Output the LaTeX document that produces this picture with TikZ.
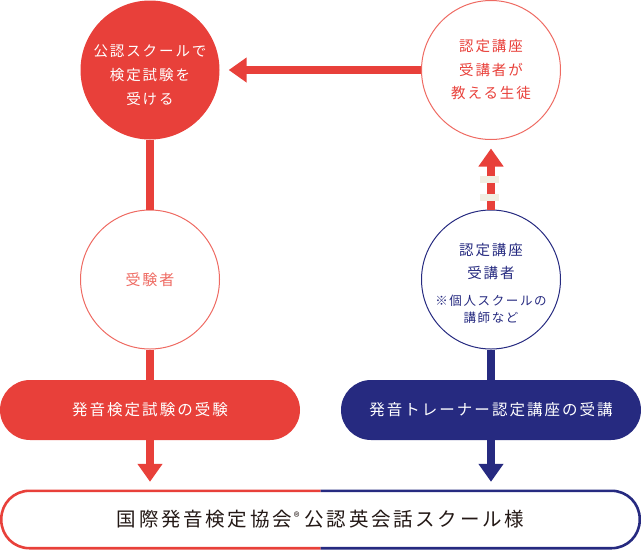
\documentclass[tikz,border=0pt]{standalone}
\usepackage{fontspec}
\usetikzlibrary{arrows.meta}
\newfontfamily\jp{Noto Sans CJK JP}[LetterSpace=13]
\newfontfamily\jpb{Noto Sans CJK JP}[LetterSpace=14]
\definecolor{cred}{HTML}{E8403A}
\definecolor{clred}{HTML}{EE6A62}
\definecolor{cnavy}{HTML}{262A80}
\definecolor{ccream}{HTML}{F1EEE2}
\definecolor{cdark}{HTML}{231815}
\tikzset{
  circ/.style={circle, inner sep=0pt, minimum size=139pt, align=center},
  txt/.style={inner sep=0pt, align=center},
  pill/.style={rectangle, rounded corners=30pt, inner sep=0pt, minimum width=300pt, minimum height=60pt, text=white, font=\jp\fontsize{15.5}{15.5}\selectfont},
  shaft/.style={line width=8pt},
  tip/.style={-{Triangle[width=24pt,length=18pt]}, line width=8pt},
}
\begin{document}
\begin{tikzpicture}[x=1pt,y=-1pt]
\useasboundingbox (0,0) rectangle (641,550);
\node[circ, fill=cred] (c1) at (150,70) {};
\node[txt, text=white, font=\jp\fontsize{14.5}{24}\selectfont] (c1t) at ([yshift=-5pt]c1.center) {公認スクールで\\検定試験を\\受ける};
\node[circ, draw=clred, line width=1pt, text=cred, font=\jp\fontsize{14.5}{23.5}\selectfont] (c2) at (491,70) {認定講座\\受講者が\\教える生徒};
\node[circ, draw=clred, line width=1pt, text=clred, font=\jp\fontsize{15}{15}\selectfont] (c3) at (150,279.5) {受験者};
\node[circ, draw=cnavy, line width=1pt] (c4) at (491,279.5) {};
\node[txt, text=cnavy, font=\jp\fontsize{14.5}{23}\selectfont] (c4t) at ([yshift=-4pt]c4.center) {認定講座\\受講者\\[4pt]\fontsize{12.5}{23}\selectfont ※個人スクールの\\[-6pt]\fontsize{12.5}{23}\selectfont 講師など};
\node[pill, fill=cred] (p1) at (150,410) {発音検定試験の受験};
\node[pill, fill=cnavy] (p2) at (491,410) {発音トレーナー認定講座の受講};
\node[rectangle, minimum width=638pt, minimum height=57pt, inner sep=0pt, text=cdark, font=\jpb\fontsize{19.5}{19.5}\selectfont] (p3) at (320.5,519.5) {国際発音検定協会\hspace{2pt}{\fontsize{12}{12}\selectfont\raisebox{5pt}{®}}\hspace{5pt}公認英会話スクール様};
\begin{scope}
\clip (0,480) rectangle (320.5,550);
\draw[cred, line width=2.6pt, rounded corners=28pt] (p3.south west) rectangle (p3.north east);
\end{scope}
\begin{scope}
\clip (320.5,480) rectangle (641,550);
\draw[cnavy, line width=2.6pt, rounded corners=28pt] (p3.south west) rectangle (p3.north east);
\end{scope}
% connectors
\draw[tip, cred, shorten >=9pt] (c2.west) -- (c1.east);
\draw[shaft, cred] (c1.south) -- (c3.north);
\draw[shaft, cred] (c3.south) -- (p1.north);
\draw[tip, cred, shorten >=9pt] (p1.south) -- (p1.south |- p3.north);
\draw[tip, cred, shorten >=8.5pt] (c4.north) -- (c2.south);
\fill[ccream] (479.5,176) rectangle (498.5,183);
\fill[ccream] (479.5,194) rectangle (498.5,201);
\draw[shaft, cnavy] (c4.south) -- (p2.north);
\draw[tip, cnavy, shorten >=9pt] (p2.south) -- (p2.south |- p3.north);
\end{tikzpicture}
\end{document}
